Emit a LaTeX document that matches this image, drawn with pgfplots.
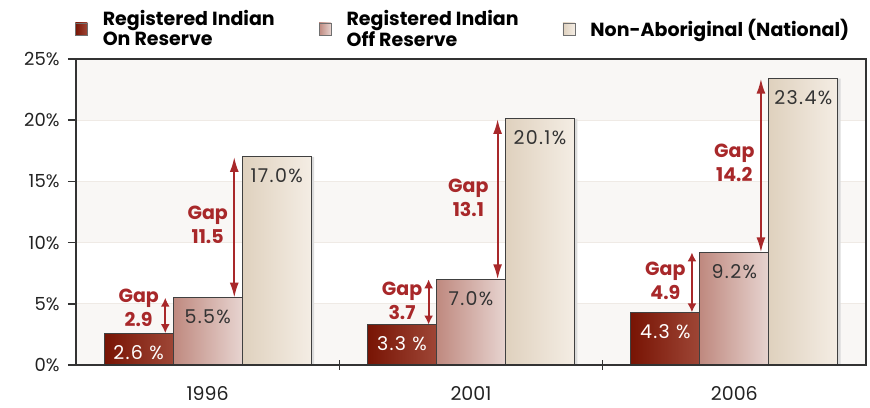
\documentclass[border=0pt]{standalone}
\usepackage{fontspec}
\setmainfont{Poppins}
\newfontfamily\valfont[LetterSpace=7]{Poppins}
\usepackage{pgfplots}
\pgfplotsset{compat=1.18}
\usetikzlibrary{arrows.meta}
\definecolor{onL}{HTML}{781404}
\definecolor{onR}{HTML}{9E4636}
\definecolor{offL}{HTML}{BF897F}
\definecolor{offR}{HTML}{E7D4D0}
\definecolor{nonL}{HTML}{DFD1BE}
\definecolor{nonR}{HTML}{F4EDE4}
\definecolor{axisgray}{HTML}{333333}
\definecolor{bargray}{HTML}{404040}
\definecolor{labelgray}{HTML}{222222}
\definecolor{valgray}{HTML}{333333}
\definecolor{gapred}{HTML}{A8282A}
\definecolor{band}{HTML}{F9F7F5}
\definecolor{gridc}{HTML}{EFEAE5}
\definecolor{markgray}{HTML}{707070}
\pgfplotsset{
  mylegend/.style={legend image code/.code={\draw[##1, draw=markgray, line width=0.8pt] (0pt,-6pt) rectangle (12pt,6pt);}},
  gaparrow/.style={gapred, line width=2pt, {Latex[length=#1,width=9pt]}-{Latex[length=#1,width=9pt]}, forget plot},
  barbase/.style={ybar, bar width=0.262, bar shift=0pt, draw=bargray, line width=1pt, mylegend,
    point meta=explicit symbolic, nodes near coords,
    every node near coord/.append style={anchor=center, yshift=-19pt, text=#1,
      font=\valfont\fontsize{19}{22}\selectfont}},
  onbar/.style={barbase=white, left color=onL, right color=onR},
  offbar/.style={barbase=valgray, left color=offL, right color=offR},
  nonbar/.style={barbase=valgray, left color=nonL, right color=nonR},
  shadowbar/.style={ybar, bar width=0.262, bar shift=0pt, draw=none, fill=black!14, forget plot},
}
\begin{document}
\begin{tikzpicture}
\begin{axis}[
  at={(76pt,42pt)}, anchor=south west,
  scale only axis, width=790pt, height=306pt,
  xmin=-0.5, xmax=2.5, ymin=0, ymax=25,
  axis on top,
  axis line style={draw=axisgray, line width=2pt},
  xtick={0,1,2}, xticklabels={1996,2001,2006},
  xtick style={draw=none},
  x tick label style={font=\fontsize{19}{22}\selectfont, text=labelgray, yshift=-21pt, inner sep=0.5pt},
  ytick={0,5,10,15,20,25}, yticklabels={0\%,5\%,10\%,15\%,20\%,25\%},
  ytick pos=left, ytick align=outside,
  y tick style={draw=axisgray, line width=1.5pt}, major tick length=8pt,
  y tick label style={font=\fontsize{18}{20}\selectfont, text=labelgray, xshift=-5pt},
  clip=false,
  legend columns=3,
  legend style={draw=none, fill=none, inner sep=0pt, outer sep=0pt,
    at={(axis description cs:-0.0013,1)}, anchor=west, yshift=30pt,
    font=\bfseries\fontsize{19}{20}\selectfont, text=black,
    cells={align=left, inner sep=0pt},
    /tikz/every odd column/.append style={column sep=13pt},
    /tikz/every even column/.append style={column sep=42pt}},
]
% background bands and grid
\fill[band] (axis cs:-0.5,0) rectangle (axis cs:2.5,5);
\fill[band] (axis cs:-0.5,10) rectangle (axis cs:2.5,15);
\fill[band] (axis cs:-0.5,20) rectangle (axis cs:2.5,25);
\draw[gridc, line width=1pt] (axis cs:-0.5,5) -- (axis cs:2.5,5);
\draw[gridc, line width=1pt] (axis cs:-0.5,10) -- (axis cs:2.5,10);
\draw[gridc, line width=1pt] (axis cs:-0.5,15) -- (axis cs:2.5,15);
\draw[gridc, line width=1pt] (axis cs:-0.5,20) -- (axis cs:2.5,20);

% soft shadows behind the bars (same values, shifted right)
\addplot[shadowbar] coordinates {(-0.251,2.6) (0.749,3.3) (1.749,4.3)};
\addplot[shadowbar] coordinates {(0.011,5.5) (1.011,7.0) (2.011,9.2)};
\addplot[shadowbar] coordinates {(0.273,17.0) (1.273,20.1) (2.273,23.4)};

% Registered Indian On Reserve
\addplot[onbar] coordinates {(-0.262,2.6) [2.6 \%]};
\addlegendentry{Registered Indian\\On Reserve}
% Registered Indian Off Reserve
\addplot[offbar] coordinates {(0,5.5) [5.5\%]};
\addlegendentry{Registered Indian\\Off Reserve}
% Non-Aboriginal (National)
\addplot[nonbar] coordinates {(0.262,17.0) [17.0\%]};
\addlegendentry{Non-Aboriginal (National)}
\addplot[onbar, forget plot] coordinates {(0.738,3.3) [3.3 \%]};
\addplot[onbar, forget plot] coordinates {(1.738,4.3) [4.3 \%]};
\addplot[offbar, forget plot] coordinates {(1,7.0) [7.0\%]};
\addplot[offbar, forget plot] coordinates {(2,9.2) [9.2\%]};
\addplot[nonbar, forget plot] coordinates {(1.262,20.1) [20.1\%]};
\addplot[nonbar, forget plot] coordinates {(2.262,23.4) [23.4\%]};

% gap arrows
\addplot[gaparrow=9pt] coordinates {(-0.161,2.6) (-0.161,5.5)};
\addplot[gaparrow=15pt] coordinates {(0.101,5.5) (0.101,17.0)};
\addplot[gaparrow=9pt] coordinates {(0.839,3.3) (0.839,7.0)};
\addplot[gaparrow=15pt] coordinates {(1.101,7.0) (1.101,20.1)};
\addplot[gaparrow=9pt] coordinates {(1.839,4.3) (1.839,9.2)};
\addplot[gaparrow=15pt] coordinates {(2.101,9.2) (2.101,23.4)};

\tikzset{gaptxt/.style={text=gapred, font=\bfseries\fontsize{19}{24}\selectfont, align=center, inner sep=0pt}}
\node[gaptxt] at (axis cs:-0.262,4.66) {Gap\\2.9};
\node[gaptxt] at (axis cs:0,11.44) {Gap\\11.5};
\node[gaptxt] at (axis cs:0.738,5.23) {Gap\\3.7};
\node[gaptxt] at (axis cs:0.99,13.64) {Gap\\13.1};
\node[gaptxt] at (axis cs:1.738,6.86) {Gap\\4.9};
\node[gaptxt] at (axis cs:2,16.5) {Gap\\14.2};

% category separators
\draw[axisgray, line width=1.2pt] (axis cs:0.5,-0.4) -- (axis cs:0.5,0.4);
\draw[axisgray, line width=1.2pt] (axis cs:1.5,-0.4) -- (axis cs:1.5,0.4);
\end{axis}
\draw[axisgray, line width=2.5pt] (76pt,41pt) -- (76pt,349pt);
\draw[axisgray, line width=2.5pt] (866pt,41pt) -- (866pt,349pt);
\draw[axisgray, line width=2pt] (68pt,42pt) -- (866pt,42pt);
\draw[axisgray, line width=2pt] (76pt,348pt) -- (866pt,348pt);
\pgfresetboundingbox
\path[use as bounding box] (0,0) rectangle (870pt,407pt);
\end{tikzpicture}
\end{document}
